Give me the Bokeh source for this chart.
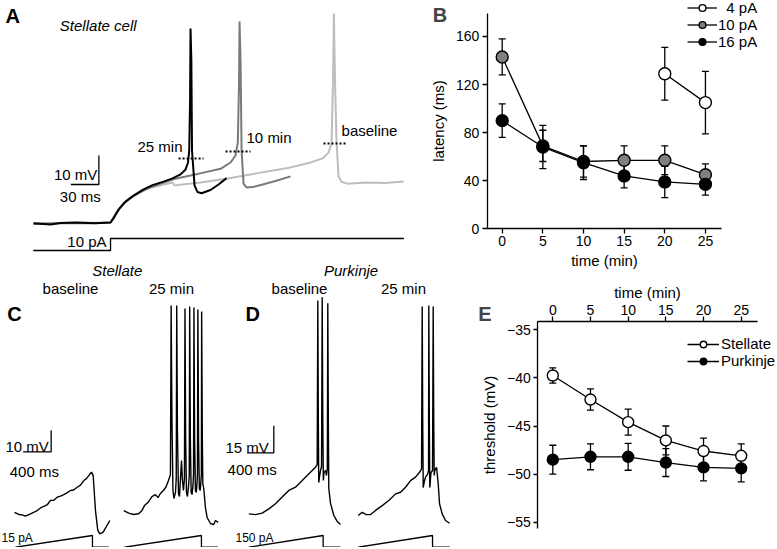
from bokeh.plotting import figure
from bokeh.models import (Range1d, FixedTicker, Whisker, TeeHead, ColumnDataSource,
                          Label, Legend, LegendItem)
from bokeh.layouts import column, row
from bokeh.core.properties import value
from bokeh.embed import file_html
from bokeh.resources import INLINE

FONT = "Liberation Sans"

# ---------------- Panel A: stellate cell, 10 pA step (ms, mV) ----------------
a_min25_t = [-82.5, -64.3, -53.6, -37.5, -16.1, 0, 3.2, 8.6, 16.1, 24.6, 35.4, 45.0, 56.8,
             66.4, 75.0, 80.4, 83.0, 84.3, 85.2, 85.7, 86.6, 87.3, 90.0, 93.2, 97.5, 107.1,
             115.7, 124.3]
a_min25_v = [-70.3, -70.7, -70.2, -70.0, -70.3, -70.0, -68.6, -65.5, -62.8, -60.7, -58.6,
             -57.1, -55.9, -54.8, -53.4, -51.7, -49.3, -45.2, -27.9, -3.1, -14.1, -45.2,
             -57.2, -59.5, -59.9, -58.8, -56.9, -54.7]
a_min10_t = [-82.5, -53.6, -21.4, 0, 5.4, 13.9, 24.6, 37.5, 53.6, 70.7, 85.7, 99.6, 117.9,
             128.6, 133.9, 136.4, 137.7, 138.2, 139.3, 140.4, 142.5, 145.7, 152.1, 162.9,
             176.8, 192.9]
a_min10_v = [-70.5, -70.3, -70.3, -70.0, -67.2, -63.4, -60.9, -58.6, -56.6, -54.8, -53.8,
             -52.8, -51.5, -49.3, -46.9, -42.4, -21.0, -0.7, -14.1, -45.2, -56.6, -57.9,
             -57.8, -56.9, -55.7, -54.1]
a_base_t = [-82.5, 0, 5.4, 16.1, 26.8, 42.9, 66.4, 68.6, 96.4, 125.4, 160.7, 192.9, 214.3,
            227.1, 233.6, 236.8, 238.4, 239.3, 240.5, 242.1, 244.3, 247.5, 253.9, 273.2,
            294.6, 313.9]
a_base_v = [-70.3, -70.0, -66.9, -62.8, -60.3, -57.9, -56.2, -57.2, -56.2, -54.8, -52.8,
            -51.0, -49.3, -47.9, -45.9, -42.8, -21.0, 2.1, -21.0, -41.7, -54.1, -56.0,
            -56.6, -56.2, -56.4, -55.9]
a_thr_t0 = [72.9, 123.2, 228.2]
a_thr_t1 = [99.6, 150.0, 253.9]
a_thr_v = [-47.9, -45.5, -42.8]
a_step_t = [-82.8, 0, 0, 314.3]
a_step_i = [0, 0, 10, 10]

# ---------------- Panel C: stellate ramp (ms, mV, pA) ----------------
c_base_t = [-14, 47, 96, 143, 214, 310, 357, 404, 457, 500, 543, 596, 643, 690, 729, 786,
            829, 882, 929, 976, 1014, 1047, 1086, 1110, 1143, 1176, 1205, 1253, 1348]
c_base_v = [-59.9, -60.9, -61.1, -61.7, -60.6, -59.1, -57.9, -57.2, -56.3, -54.4, -54.4,
            -52.9, -52.4, -51.7, -51.0, -49.8, -49.6, -48.3, -47.3, -45.2, -44.3, -42.9,
            -41.3, -42.9, -59.1, -68.3, -69.9, -69.1, -63.7]
c_25_t = [-10, 61, 133, 204, 250, 286, 343, 393, 443, 479, 514, 557, 593, 629, 657, 667, 679,
          693, 707, 729, 740, 747, 757, 772, 786, 807, 815, 829, 843, 857, 865, 875, 886,
          900, 915, 926, 932, 942, 953, 966, 980, 987, 993, 1003, 1014, 1027, 1037, 1043,
          1049, 1059, 1070, 1083, 1093, 1099, 1103, 1113, 1120, 1129, 1136, 1157, 1181,
          1229, 1276, 1300, 1339]
c_25_v = [-59.1, -60.3, -60.9, -60.6, -59.1, -56.8, -55.1, -52.6, -51.7, -53.1, -51.2, -49.8,
          -48.2, -45.2, -42.4, 35.8, -17.4, -49.8, -53.5, -50.7, -44.3, 35.8, -22.0, -51.2,
          -52.6, -40.6, -35.9, -45.2, -49.8, -44.3, 34.4, -26.7, -50.7, -52.6, -48.0, -42.9,
          35.4, -26.7, -50.7, -51.7, -47.0, -42.4, 34.9, -26.7, -49.8, -50.7, -46.1, -42.4,
          34.0, -26.7, -48.9, -49.8, -45.2, -42.4, 33.1, -26.7, -47.0, -48.0, -49.8, -57.7,
          -62.3, -65.1, -65.6, -63.7, -64.6]
c_ramp_t = [0, 1100, 1100, 1335]
c_ramp_i = [0, 15, 0, 0]

# ---------------- Panel D: Purkinje ramp (ms, mV, pA) ----------------
d_base_t = [0, 101, 201, 300, 401, 501, 600, 701, 801, 876, 951, 1001, 1026, 1035, 1043,
            1049, 1061, 1076, 1091, 1101, 1110, 1118, 1128, 1151, 1166, 1178, 1185, 1193,
            1200, 1226, 1275, 1326, 1376]
d_base_v = [-60.2, -60.6, -59.8, -57.4, -54.6, -50.9, -47.2, -45.4, -41.7, -38.9, -36.1,
            -34.3, -32.8, 58.3, -8.3, -42.8, -39.4, -36.1, -33.9, 60.2, -8.3, -41.7, -37.2,
            -36.1, -38.9, -35.0, 56.8, -8.3, -46.1, -54.4, -61.1, -64.4, -66.1]
d_25_t = [0, 60, 120, 185, 260, 360, 459, 560, 635, 710, 785, 860, 920, 950, 960, 968, 975,
          995, 1010, 1040, 1055, 1059, 1067, 1074, 1092, 1115, 1125, 1133, 1140, 1149, 1175,
          1200, 1220, 1260, 1310, 1370]
d_25_v = [-61.1, -59.3, -60.6, -60.6, -58.3, -55.6, -52.8, -49.1, -48.2, -45.4, -41.7, -39.8,
          -37.1, -35.2, 55.0, -8.3, -45.6, -41.7, -39.8, -38.3, -36.1, 55.6, -8.3, -45.6,
          -37.2, -36.1, 55.0, -8.3, -38.9, -36.1, -34.3, -43.3, -54.6, -60.2, -63.9, -65.4]
d_ramp_t = [0, 1115, 1115, 1375]
d_ramp_i = [0, 150, 0, 0]

# ---------------- Panel B: latency ----------------
b_time = [0, 5, 10, 15, 20, 25]
b_time_4pa = [20, 25]
b_lat_4pa = [129, 105]
b_err_4pa = [22, 26]
b_lat_10pa = [143, 69, 56, 57, 57, 45]
b_err_10pa = [15, 13, 13, 12, 12, 9]
b_lat_16pa = [90, 68, 55, 44, 39, 37]
b_err_16pa = [14, 18, 14, 10, 13, 9]
b_yticks = [0, 40, 80, 120, 160]

# ---------------- Panel E: threshold ----------------
e_time = [0, 5, 10, 15, 20, 25]
e_stellate = [-39.75, -42.25, -44.6, -46.5, -47.6, -48.1]
e_stellate_err = [0.8, 1.1, 1.35, 1.5, 1.35, 1.25]
e_purkinje = [-48.5, -48.2, -48.2, -48.8, -49.3, -49.4]
e_purkinje_err = [1.5, 1.35, 1.4, 1.45, 1.4, 1.4]
e_yticks = [-55, -50, -45, -40, -35]


def txt(p, x, y, s, size="15px", align="left", baseline="middle", style="normal", **kw):
    p.text(x=[x], y=[y], text=[s], text_font=value(FONT), text_font_size=size,
           text_align=align, text_baseline=baseline, text_font_style=style,
           text_color="black", **kw)


def bare(width, height, xr, yr, **kw):
    p = figure(width=width, height=height, x_range=xr, y_range=yr, output_backend="svg",
               toolbar_location=None, min_border=0, outline_line_color=None, **kw)
    p.grid.visible = False
    return p


def style_axis(ax, ticks, label, label_standoff, tick_standoff, loc, bounds):
    ax.fixed_location = loc
    ax.bounds = bounds
    ax.ticker = FixedTicker(ticks=ticks)
    ax.minor_tick_line_color = None
    ax.major_tick_out = 5
    ax.major_tick_in = 0
    ax.axis_line_width = 1.3
    ax.major_tick_line_width = 1.3
    ax.axis_line_color = "black"
    ax.major_tick_line_color = "black"
    ax.major_label_text_font = FONT
    ax.major_label_text_font_size = "14px"
    ax.major_label_text_color = "black"
    ax.major_label_standoff = tick_standoff
    ax.axis_label = label
    ax.axis_label_text_font = FONT
    ax.axis_label_text_font_size = "15px"
    ax.axis_label_text_font_style = "normal"
    ax.axis_label_text_color = "black"
    ax.axis_label_standoff = label_standoff


# ======================= Panel A =======================
pa = bare(420, 280, Range1d(-117.9, 332.1), Range1d(-90.0, 6.55),
          x_axis_location=None, y_axis_location=None)
pa.extra_y_ranges = {"I": Range1d(-25, 208.3)}
pa.line(a_base_t, a_base_v, line_color="#bdbdbd", line_width=2)
pa.line(a_min10_t, a_min10_v, line_color="#7a7a7a", line_width=2)
pa.line(a_min25_t, a_min25_v, line_color="black", line_width=2)
pa.segment(x0=a_thr_t0, x1=a_thr_t1, y0=a_thr_v, y1=a_thr_v, line_color="black",
           line_width=2, line_dash="2 2")
pa.line(a_step_t, a_step_i, line_color="black", line_width=1.3, y_range_name="I")
# scale bar 30 ms / 10 mV
pa.line([-42.5, -12.5, -12.5], [-56.9, -56.9, -46.9], line_color="black", line_width=1.3)
txt(pa, -112.5, 1.1, "A", size="20px", style="bold")
txt(pa, -54.3, -1.9, "Stellate cell", style="italic")
txt(pa, 77.1, -43.8, "25 min", align="right")
txt(pa, 145.7, -40.7, "10 min")
txt(pa, 247.5, -38.3, "baseline")
txt(pa, -14.2, -53.45, "10 mV", align="right")
txt(pa, -32.5, -61.0, "30 ms", align="center")
txt(pa, -4.3, 7.5, "10 pA", align="right", y_range_name="I")
txt(pa, 7.2, -86.6, "Stellate", align="center", style="italic")
txt(pa, 257.7, -86.6, "Purkinje", align="center", style="italic")

# ======================= Panels C and D =======================
C_OFF = 1557   # horizontal placement of the 25 min stellate trace
D_OFF = 1641   # horizontal placement of the 25 min Purkinje trace
pcd = bare(455, 267, Range1d(-214, 6287), Range1d(-76.2, 47.41),
           x_axis_location=None, y_axis_location=None)
pcd.extra_x_ranges = {"tD": Range1d(-3724.5, 3100.5)}
pcd.extra_y_ranges = {"vD": Range1d(-78.89, 69.44), "iC": Range1d(-0.38, 341.9),
                      "iD": Range1d(-3.8, 3419)}
pcd.line(c_base_t, c_base_v, line_color="black", line_width=1.4)
pcd.line([t + C_OFF for t in c_25_t], c_25_v, line_color="black", line_width=1.4)
pcd.line(c_ramp_t, c_ramp_i, line_color="black", line_width=1.3, y_range_name="iC")
pcd.line([t + C_OFF for t in c_ramp_t], c_ramp_i, line_color="black", line_width=1.3,
         y_range_name="iC")
pcd.line(d_base_t, d_base_v, line_color="black", line_width=1.4, x_range_name="tD",
         y_range_name="vD")
pcd.line([t + D_OFF for t in d_25_t], d_25_v, line_color="black", line_width=1.4,
         x_range_name="tD", y_range_name="vD")
pcd.line(d_ramp_t, d_ramp_i, line_color="black", line_width=1.3, x_range_name="tD",
         y_range_name="iD")
pcd.line([t + D_OFF for t in d_ramp_t], d_ramp_i, line_color="black", line_width=1.3,
         x_range_name="tD", y_range_name="iD")
# scale bars
pcd.line([110, 510, 510], [-31.9, -31.9, -21.9], line_color="black", line_width=1.3)
pcd.line([-25, 375, 375], [-26.3, -26.3, -11.3], line_color="black", line_width=1.3,
         x_range_name="tD", y_range_name="vD")
txt(pcd, -118.6, 32.0, "C", size="20px", style="bold")
txt(pcd, 786, 43.7, "baseline", align="center")
txt(pcd, 2229, 43.7, "25 min", align="center")
txt(pcd, 476, -29.4, "10 mV", align="right")
txt(pcd, 269, -40.8, "400 ms", align="center")
txt(pcd, -200, 12.4, "15 pA", size="12px", y_range_name="iC")
txt(pcd, -49.5, 50.7, "D", size="20px", style="bold", x_range_name="tD", y_range_name="vD")
txt(pcd, 760.5, 65, "baseline", align="center", x_range_name="tD", y_range_name="vD")
txt(pcd, 2320, 65, "25 min", align="center", x_range_name="tD", y_range_name="vD")
txt(pcd, 300, -23.1, "15 mV", align="right", x_range_name="tD", y_range_name="vD")
txt(pcd, 51, -35.6, "400 ms", align="center", x_range_name="tD", y_range_name="vD")
txt(pcd, -199.5, 124, "150 pA", size="12px", x_range_name="tD", y_range_name="iD")


def series(p, xs, ys, errs, fill, size):
    src = ColumnDataSource(dict(x=xs, y=ys, lo=[y - e for y, e in zip(ys, errs)],
                                hi=[y + e for y, e in zip(ys, errs)]))
    p.add_layout(Whisker(source=src, base="x", upper="hi", lower="lo", line_color="black",
                         line_width=1.3,
                         upper_head=TeeHead(size=7, line_color="black", line_width=1.3),
                         lower_head=TeeHead(size=7, line_color="black", line_width=1.3)))
    ln = p.line("x", "y", source=src, line_color="black", line_width=1.3)
    sc = p.scatter("x", "y", source=src, marker="circle", size=size, fill_color=fill,
                   line_color="black", line_width=1.4)
    return ln, sc


# ======================= Panel B =======================
pb = bare(355, 280, Range1d(-10.05, 33.62), Range1d(-43.02, 189.95))
style_axis(pb.xaxis[0], b_time, "time (min)", 3, 2, 0, (-1.84, 27.0))
style_axis(pb.yaxis[0], b_yticks, "latency (ms)", 6, 3, -1.84, (0, 179.3))
rb4 = series(pb, b_time_4pa, b_lat_4pa, b_err_4pa, "white", 12)
rb10 = series(pb, b_time, b_lat_10pa, b_err_10pa, "#808080", 12)
rb16 = series(pb, b_time, b_lat_16pa, b_err_16pa, "black", 12)
leg_b = Legend(items=[LegendItem(label="\u20074 pA", renderers=list(rb4)),
                      LegendItem(label="10 pA", renderers=list(rb10)),
                      LegendItem(label="16 pA", renderers=list(rb16))],
               location=(267, 230), orientation="vertical", glyph_width=30, glyph_height=17,
               label_height=17, label_standoff=1, spacing=0, padding=0, margin=0,
               border_line_color=None, background_fill_alpha=0, label_text_font=FONT,
               label_text_font_size="15px", label_text_color="black")
pb.add_layout(leg_b)
pb.add_layout(Label(x=-7.65, y=177.9, text="B", text_font=FONT, text_font_size="20px",
                    text_font_style="bold", text_align="center", text_baseline="middle"))

# ======================= Panel E =======================
pe = bare(320, 267, Range1d(-12.91, 29.55), Range1d(-57.63, -29.875),
          x_axis_location="above")
style_axis(pe.xaxis[0], e_time, "time (min)", 2, 1, -34.1, (-1.99, 27.1))
style_axis(pe.yaxis[0], e_yticks, "threshold (mV)", 6, 3, -1.99, (-55.69, -34.1))
pe.yaxis[0].major_tick_out = 4
pe.yaxis[0].major_label_overrides = {v: "\u2212%d" % abs(v) for v in e_yticks}
re_s = series(pe, e_time, e_stellate, e_stellate_err, "white", 11)
re_p = series(pe, e_time, e_purkinje, e_purkinje_err, "black", 11)
leg_e = Legend(items=[LegendItem(label="Stellate", renderers=list(re_s)),
                      LegendItem(label="Purkinje", renderers=list(re_p))],
               location=(232, 178), orientation="vertical", glyph_width=32, glyph_height=16,
               label_height=16, label_standoff=2, spacing=0, padding=0, margin=0,
               border_line_color=None, background_fill_alpha=0, label_text_font=FONT,
               label_text_font_size="15px", label_text_color="black")
pe.add_layout(leg_e)
pe.add_layout(Label(x=-9.0, y=-33.36, text="E", text_font=FONT, text_font_size="20px",
                    text_font_style="bold", text_align="center", text_baseline="middle"))

layout = column(row(pa, pb), row(pcd, pe))
open("out.html", "w").write(file_html(layout, INLINE))
